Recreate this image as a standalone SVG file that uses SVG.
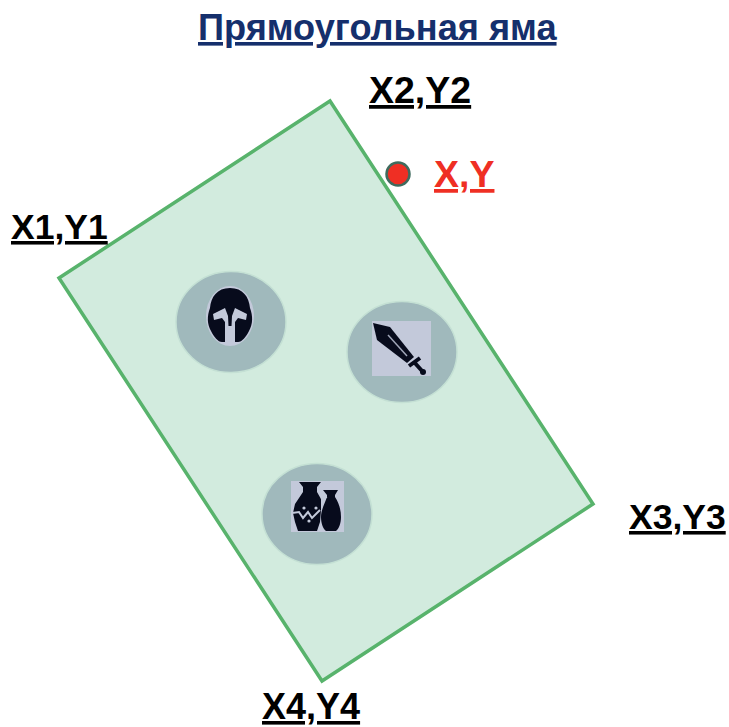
<svg xmlns="http://www.w3.org/2000/svg" width="729" height="727" viewBox="0 0 729 727">
<style>
text{font-family:"Liberation Sans",Arial,sans-serif;font-weight:700;text-decoration:underline}
.l{fill:#000}
.disc{fill:#a0b9bc;stroke:#c4e0d4;stroke-width:1.5}
.bg{fill:#c3c9da}
.ink{fill:#070b1c}
</style>
<rect width="729" height="727" fill="#fff"/>
<text x="198" y="40" font-size="36.200" fill="#152f6c">Прямоугольная яма</text>
<g id="pit"><polygon points="59,278 330,101 593,504 322,681" fill="#d2ebde" stroke="#58b36c" stroke-width="3.500"/></g>
<g id="helmet">
<ellipse class="disc" cx="231" cy="322" rx="55" ry="50.500"/>
<ellipse class="bg" cx="230" cy="316" rx="24" ry="30"/>
<path class="ink" d="M230 288C243 288 249 297 250 308C253 316 253 324 249 331C246 337 242 342 238 342L235 342L225 342L222 342C218 342 214 337 211 331C207 324 207 316 210 308C211 297 217 288 230 288Z"/>
<path class="bg" d="M213 314L225 308L228 316L228.500 326H231.500L232 316L235 308L247 314L246 320L238 318L235 322V344H225V322L222 318L214 320Z"/>
</g>
<g id="sword">
<ellipse class="disc" cx="402" cy="352" rx="55" ry="50.500"/>
<rect class="bg" x="372" y="321" width="59" height="55"/>
<path class="ink" d="M373 323L390 327L414 357L407 363L377 340Z"/>
<path d="M388 335L407 356" stroke="#a0a6b8" stroke-width="1.500" fill="none"/>
<path d="M409 366L420 358M414 362L423 372" stroke="#070b1c" stroke-width="4" fill="none"/>
<circle class="ink" cx="423" cy="372" r="3"/>
</g>
<g id="vases">
<ellipse class="disc" cx="317" cy="514" rx="55" ry="50.500"/>
<rect class="bg" x="291" y="481" width="53" height="51"/>
<path class="ink" d="M299 482H321L317 487V492L321 499L321 510L320 522L317 531H298L295 522L293 513L295 504L303 492V487Z"/>
<path d="M292 513L299 512L303 518L308 512L312 518L320 510" stroke="#c3c9da" stroke-width="2" fill="none"/>
<path class="ink" d="M323 490H338L335 495V497C339 503 341 510 341 517C341 523 339 529 336 531H326C323 529 321 523 321 517C321 510 325 503 327 497V495Z"/>
<path d="M321 499L327 497" stroke="#c3c9da" stroke-width="1.500"/>
<circle class="bg" cx="304" cy="508" r="1.600"/><circle class="bg" cx="316" cy="508" r="1.600"/><circle class="bg" cx="309" cy="521" r="1.600"/>
</g>
<g id="point"><circle cx="398" cy="174" r="11.500" fill="#ef2f24" stroke="#3f6b5e" stroke-width="2.500"/></g>
<text class="l" x="369" y="103" font-size="37.500">X2,Y2</text>
<text class="l" x="11" y="239" font-size="35.500">X1,Y1</text>
<text class="l" x="629" y="529" font-size="35.500">X3,Y3</text>
<text class="l" x="262" y="719" font-size="36">X4,Y4</text>
<text x="434" y="187" font-size="37.500" fill="#ef2f24">X,Y</text>
</svg>
